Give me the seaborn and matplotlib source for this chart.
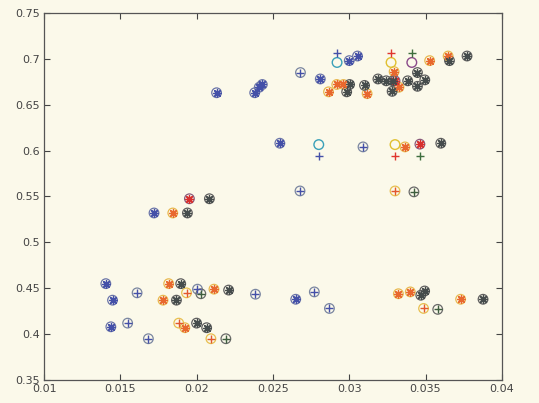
import matplotlib
matplotlib.use("Agg")
import matplotlib.pyplot as plt
import seaborn as sns
import pandas as pd

# ---- data ----
blue_star_x = [0.0213, 0.0238, 0.0241, 0.0243, 0.0281, 0.0300, 0.03054, 0.02545, 0.0172,
               0.01404, 0.01448, 0.01437, 0.02649]
blue_star_y = [0.663, 0.663, 0.669, 0.672, 0.678, 0.698, 0.703, 0.608, 0.532,
               0.455, 0.437, 0.408, 0.438]
blue_plus_x = [0.0268, 0.0309, 0.02677, 0.01609, 0.01547, 0.01683, 0.02005, 0.02385, 0.02771, 0.0287]
blue_plus_y = [0.685, 0.604, 0.556, 0.445, 0.412, 0.395, 0.449, 0.4435, 0.446, 0.428]
blue_plus_only_x = [0.0292, 0.0280]
blue_plus_only_y = [0.706, 0.5946]
cyan_circle_x = [0.0292, 0.0280]
cyan_circle_y = [0.696, 0.6065]

orange_star_x = [0.02864, 0.02918, 0.02962, 0.03117, 0.03294, 0.03326, 0.03527, 0.03648, 0.03365,
                 0.01843, 0.01816, 0.01779, 0.02113, 0.01922, 0.03322, 0.0340, 0.0373]
orange_star_y = [0.664, 0.672, 0.672, 0.662, 0.686, 0.669, 0.698, 0.703, 0.604,
                 0.532, 0.455, 0.437, 0.449, 0.407, 0.444, 0.446, 0.438]
orange_plus_x = [0.0330, 0.01933, 0.01882, 0.02093, 0.03487]
orange_plus_y = [0.556, 0.445, 0.412, 0.395, 0.428]
red_star_x = [0.0330, 0.03463, 0.01952]
red_star_y = [0.676, 0.607, 0.5475]
red_plus_only_x = [0.03274, 0.0330]
red_plus_only_y = [0.706, 0.5946]
yellow_circle_x = [0.03274, 0.0330]
yellow_circle_y = [0.696, 0.6065]

gray_star_x = [0.02983, 0.03002, 0.0310, 0.03188, 0.03242, 0.03286, 0.03281, 0.03383, 0.03447,
               0.03495, 0.03447, 0.03657, 0.03772, 0.0360, 0.01939, 0.02083, 0.01895, 0.01867,
               0.02209, 0.01999, 0.02065, 0.03494, 0.03469, 0.03877]
gray_star_y = [0.664, 0.672, 0.671, 0.678, 0.676, 0.676, 0.6645, 0.676, 0.685,
               0.677, 0.670, 0.698, 0.703, 0.608, 0.532, 0.5475, 0.455, 0.437,
               0.448, 0.412, 0.407, 0.447, 0.4424, 0.438]
gray_plus_x = [0.03424, 0.02027, 0.02191, 0.0358]
gray_plus_y = [0.555, 0.444, 0.395, 0.427]
green_plus_only_x = [0.0341, 0.03463]
green_plus_only_y = [0.706, 0.5946]
purple_circle_x = [0.0341]
purple_circle_y = [0.696]

x_ticks = [0.01, 0.015, 0.02, 0.025, 0.03, 0.035, 0.04]
x_tick_labels = ["0.01", "0.015", "0.02", "0.025", "0.03", "0.035", "0.04"]
y_ticks = [0.35, 0.4, 0.45, 0.5, 0.55, 0.6, 0.65, 0.7, 0.75]
y_tick_labels = ["0.35", "0.4", "0.45", "0.5", "0.55", "0.6", "0.65", "0.7", "0.75"]

# ---- style ----
BG = "#fbf9ea"
sns.set_theme(style="white")
plt.rcParams["font.family"] = ["DejaVu Sans"]

AST = (8, 2, 0)
groups = [
    # (xs, ys, marker, colour, size, circle_edge)
    (blue_star_x, blue_star_y, AST, "#4450a8", 30, "#6a74a8"),
    (blue_plus_x, blue_plus_y, "+", "#4450a8", 40, "#7a86a0"),
    (blue_plus_only_x, blue_plus_only_y, "+", "#4450a8", 40, None),
    (orange_star_x, orange_star_y, AST, "#e8682e", 30, "#e8b850"),
    (orange_plus_x, orange_plus_y, "+", "#e2582e", 40, "#e8c050"),
    (red_star_x, red_star_y, AST, "#d8302e", 30, "#8a5a7a"),
    (red_plus_only_x, red_plus_only_y, "+", "#e0362e", 40, None),
    (gray_star_x, gray_star_y, AST, "#454c4c", 30, "#5e5e5e"),
    (gray_plus_x, gray_plus_y, "+", "#3e5e3e", 40, "#6a6a6a"),
    (green_plus_only_x, green_plus_only_y, "+", "#3e6e3e", 40, None),
]
circles_only = [
    (cyan_circle_x, cyan_circle_y, "#3aa0b8"),
    (yellow_circle_x, yellow_circle_y, "#e0c030"),
    (purple_circle_x, purple_circle_y, "#8a4a8a"),
]

fig = plt.figure(figsize=(5.39, 4.03), dpi=100, facecolor=BG)
ax = fig.add_axes([0.082, 0.057, 0.849, 0.911])
ax.set_facecolor(BG)

for xs, ys, mk, col, s, cedge in groups:
    df = pd.DataFrame({"x": xs, "y": ys})
    if cedge is not None:
        ax.scatter(df["x"], df["y"], s=48, marker="o", facecolors="none",
                   edgecolors=cedge, linewidths=0.9, zorder=2)
    sns.scatterplot(data=df, x="x", y="y", marker=mk, color=col, s=s,
                    linewidth=1.0, ax=ax, legend=False, zorder=3)

for xs, ys, col in circles_only:
    df = pd.DataFrame({"x": xs, "y": ys})
    ax.scatter(df["x"], df["y"], s=48, marker="o", facecolors="none",
               edgecolors=col, linewidths=1.0, zorder=2)

ax.set_xlim(0.01, 0.04)
ax.set_ylim(0.35, 0.75)
ax.set_xticks(x_ticks)
ax.set_xticklabels(x_tick_labels)
ax.set_yticks(y_ticks)
ax.set_yticklabels(y_tick_labels)
ax.set_xlabel("")
ax.set_ylabel("")
ax.tick_params(direction="in", length=4, width=0.8, colors="#444444",
               labelsize=8, top=True, right=True, bottom=True, left=True,
               labelcolor="#444444", pad=3)
for sp in ax.spines.values():
    sp.set_color("#555555")
    sp.set_linewidth(0.9)
    sp.set_visible(True)

fig.savefig("out.png", dpi=100, facecolor=BG)
